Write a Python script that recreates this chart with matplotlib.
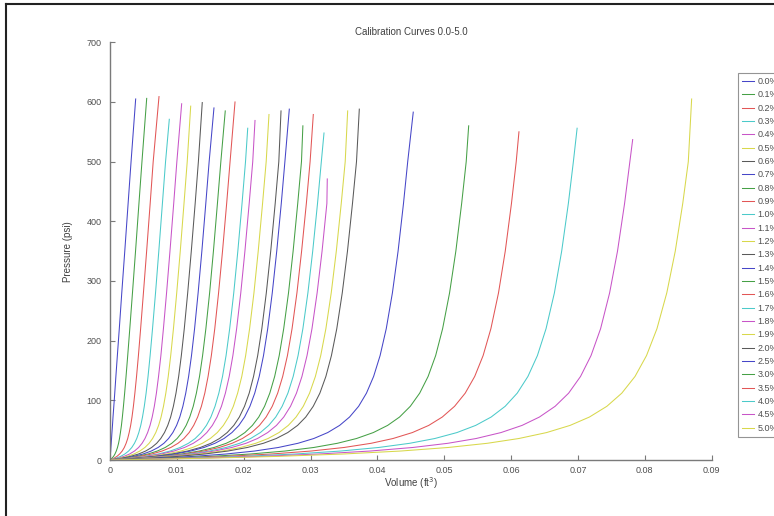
import matplotlib
matplotlib.use('Agg')
import matplotlib.pyplot as plt
from matplotlib.lines import Line2D

plt.rcParams['font.family'] = ['Liberation Sans', 'DejaVu Sans']

# pressure steps (psi) shared by the curves; each curve's last point is in top_*
pressure = [0, 3, 6, 10, 15, 21, 28, 36, 46, 58, 72, 90, 112, 140, 175, 220, 280, 350, 430, 500]

labels = ['0.0%', '0.1%', '0.2%', '0.3%', '0.4%', '0.5%', '0.6%', '0.7%', '0.8%',
          '0.9%', '1.0%', '1.1%', '1.2%', '1.3%', '1.4%', '1.5%', '1.6%', '1.7%',
          '1.8%', '1.9%', '2.0%', '2.5%', '3.0%', '3.5%', '4.0%', '4.5%', '5.0%']

# volume (ft^3) read at each pressure step
vol_00 = [0, 0.00002, 0.00004, 0.00006, 0.00010, 0.00013, 0.00018, 0.00023, 0.00029, 0.00037, 0.00045, 0.00057, 0.00071, 0.00088, 0.00110, 0.00139, 0.00176, 0.00221, 0.00271, 0.00315]
vol_01 = [0, 0.00030, 0.00053, 0.00074, 0.00094, 0.00112, 0.00128, 0.00142, 0.00156, 0.00171, 0.00185, 0.00201, 0.00219, 0.00240, 0.00265, 0.00296, 0.00336, 0.00382, 0.00433, 0.00478]
vol_02 = [0, 0.00060, 0.00103, 0.00144, 0.00182, 0.00214, 0.00241, 0.00265, 0.00287, 0.00309, 0.00329, 0.00350, 0.00372, 0.00397, 0.00425, 0.00458, 0.00500, 0.00548, 0.00601, 0.00646]
vol_03 = [0, 0.00092, 0.00158, 0.00221, 0.00278, 0.00326, 0.00366, 0.00400, 0.00431, 0.00460, 0.00486, 0.00513, 0.00540, 0.00569, 0.00600, 0.00636, 0.00681, 0.00730, 0.00784, 0.00831]
vol_04 = [0, 0.00121, 0.00208, 0.00292, 0.00366, 0.00428, 0.00480, 0.00523, 0.00563, 0.00599, 0.00631, 0.00663, 0.00694, 0.00726, 0.00761, 0.00799, 0.00846, 0.00897, 0.00953, 0.01000]
vol_05 = [0, 0.00149, 0.00255, 0.00357, 0.00446, 0.00522, 0.00585, 0.00637, 0.00685, 0.00727, 0.00764, 0.00800, 0.00835, 0.00871, 0.00908, 0.00949, 0.00998, 0.01051, 0.01107, 0.01155]
vol_06 = [0, 0.00178, 0.00304, 0.00426, 0.00533, 0.00623, 0.00698, 0.00759, 0.00815, 0.00864, 0.00907, 0.00948, 0.00987, 0.01027, 0.01067, 0.01111, 0.01162, 0.01216, 0.01274, 0.01322]
vol_07 = [0, 0.00206, 0.00352, 0.00493, 0.00617, 0.00720, 0.00806, 0.00876, 0.00940, 0.00996, 0.01044, 0.01090, 0.01133, 0.01176, 0.01219, 0.01265, 0.01318, 0.01374, 0.01433, 0.01483]
vol_08 = [0, 0.00236, 0.00404, 0.00566, 0.00708, 0.00826, 0.00924, 0.01004, 0.01076, 0.01139, 0.01193, 0.01245, 0.01292, 0.01339, 0.01385, 0.01434, 0.01490, 0.01547, 0.01607, 0.01658]
vol_09 = [0, 0.00260, 0.00446, 0.00623, 0.00779, 0.00910, 0.01017, 0.01105, 0.01184, 0.01252, 0.01311, 0.01367, 0.01418, 0.01467, 0.01516, 0.01567, 0.01624, 0.01683, 0.01745, 0.01796]
vol_10 = [0, 0.00301, 0.00515, 0.00720, 0.00899, 0.01050, 0.01173, 0.01274, 0.01364, 0.01442, 0.01509, 0.01571, 0.01628, 0.01683, 0.01736, 0.01790, 0.01851, 0.01912, 0.01975, 0.02027]
vol_11 = [0, 0.00319, 0.00547, 0.00765, 0.00956, 0.01115, 0.01246, 0.01353, 0.01448, 0.01531, 0.01601, 0.01667, 0.01726, 0.01783, 0.01838, 0.01894, 0.01956, 0.02018, 0.02082, 0.02135]
vol_12 = [0, 0.00354, 0.00607, 0.00848, 0.01060, 0.01237, 0.01382, 0.01500, 0.01605, 0.01696, 0.01773, 0.01845, 0.01909, 0.01971, 0.02029, 0.02088, 0.02153, 0.02217, 0.02282, 0.02336]
vol_13 = [0, 0.00388, 0.00663, 0.00927, 0.01159, 0.01351, 0.01509, 0.01638, 0.01753, 0.01852, 0.01935, 0.02012, 0.02082, 0.02147, 0.02209, 0.02271, 0.02338, 0.02404, 0.02471, 0.02525]
vol_14 = [0, 0.00403, 0.00691, 0.00965, 0.01206, 0.01407, 0.01571, 0.01705, 0.01824, 0.01927, 0.02013, 0.02093, 0.02165, 0.02232, 0.02296, 0.02359, 0.02427, 0.02494, 0.02562, 0.02616]
vol_15 = [0, 0.00447, 0.00764, 0.01069, 0.01335, 0.01557, 0.01738, 0.01886, 0.02018, 0.02130, 0.02225, 0.02312, 0.02390, 0.02463, 0.02531, 0.02598, 0.02670, 0.02739, 0.02808, 0.02864]
vol_16 = [0, 0.00469, 0.00803, 0.01123, 0.01402, 0.01635, 0.01826, 0.01980, 0.02118, 0.02236, 0.02335, 0.02427, 0.02508, 0.02583, 0.02654, 0.02723, 0.02796, 0.02866, 0.02937, 0.02993]
vol_17 = [0, 0.00499, 0.00853, 0.01193, 0.01489, 0.01737, 0.01939, 0.02103, 0.02249, 0.02374, 0.02479, 0.02575, 0.02661, 0.02740, 0.02813, 0.02885, 0.02960, 0.03032, 0.03104, 0.03161]
vol_18 = [0, 0.00523, 0.00895, 0.01251, 0.01563, 0.01822, 0.02034, 0.02206, 0.02359, 0.02490, 0.02599, 0.02700, 0.02789, 0.02871, 0.02947, 0.03021, 0.03098, 0.03172, 0.03244]
vol_19 = [0, 0.00561, 0.00960, 0.01341, 0.01675, 0.01953, 0.02180, 0.02364, 0.02528, 0.02667, 0.02783, 0.02891, 0.02985, 0.03072, 0.03152, 0.03229, 0.03309, 0.03385, 0.03459, 0.03518]
vol_20 = [0, 0.00590, 0.01010, 0.01412, 0.01763, 0.02055, 0.02294, 0.02487, 0.02659, 0.02806, 0.02928, 0.03040, 0.03139, 0.03229, 0.03312, 0.03392, 0.03474, 0.03552, 0.03627, 0.03687]
vol_25 = [0, 0.00724, 0.01239, 0.01731, 0.02161, 0.02519, 0.02811, 0.03048, 0.03257, 0.03435, 0.03583, 0.03719, 0.03836, 0.03943, 0.04040, 0.04132, 0.04224, 0.04309, 0.04390, 0.04453]
vol_30 = [0, 0.00877, 0.01500, 0.02095, 0.02616, 0.03049, 0.03401, 0.03687, 0.03939, 0.04153, 0.04331, 0.04492, 0.04632, 0.04758, 0.04871, 0.04975, 0.05079, 0.05173, 0.05260, 0.05328]
vol_35 = [0, 0.01007, 0.01723, 0.02407, 0.03005, 0.03502, 0.03906, 0.04233, 0.04523, 0.04768, 0.04970, 0.05154, 0.05313, 0.05455, 0.05581, 0.05697, 0.05811, 0.05912, 0.06005, 0.06076]
vol_40 = [0, 0.01156, 0.01978, 0.02763, 0.03449, 0.04019, 0.04483, 0.04858, 0.05190, 0.05470, 0.05701, 0.05911, 0.06091, 0.06251, 0.06393, 0.06522, 0.06647, 0.06756, 0.06856, 0.06931]
vol_45 = [0, 0.01304, 0.02230, 0.03116, 0.03888, 0.04531, 0.05054, 0.05476, 0.05849, 0.06164, 0.06423, 0.06658, 0.06860, 0.07038, 0.07195, 0.07338, 0.07473, 0.07591, 0.07697, 0.07776]
vol_50 = [0, 0.01456, 0.02491, 0.03480, 0.04343, 0.05060, 0.05644, 0.06115, 0.06531, 0.06882, 0.07171, 0.07432, 0.07655, 0.07853, 0.08025, 0.08181, 0.08328, 0.08455, 0.08567, 0.08650]

# end point of each curve
top_volume = [0.00384, 0.00549, 0.00733, 0.00887, 0.01072, 0.01207, 0.01380, 0.01555, 0.01724,
              0.01870, 0.02060, 0.02169, 0.02378, 0.02558, 0.02682, 0.02885, 0.03041, 0.03201,
              0.03250, 0.03555, 0.03729, 0.04536, 0.05365, 0.06117, 0.06987, 0.07818, 0.08700]
top_pressure = [605, 606, 609, 571, 597, 593, 599, 590, 585, 600, 556, 569, 579, 585, 588, 560,
                579, 548, 471, 585, 588, 583, 560, 550, 556, 537, 605]

volumes = [vol_00, vol_01, vol_02, vol_03, vol_04, vol_05, vol_06, vol_07, vol_08, vol_09,
           vol_10, vol_11, vol_12, vol_13, vol_14, vol_15, vol_16, vol_17, vol_18, vol_19,
           vol_20, vol_25, vol_30, vol_35, vol_40, vol_45, vol_50]

# old matlab colour order b g r c m y k
colours = ['#4646c8', '#46a046', '#e25656', '#4ccaca', '#c855c8', '#d8d84c', '#5a5a5a']

fig = plt.figure(figsize=(7.74, 5.16), dpi=100)
ax = fig.add_axes([110 / 774, 56 / 516, 601.7 / 774, 417.7 / 516])

for i, v in enumerate(volumes):
    x = list(v) + [top_volume[i]]
    y = pressure[:len(v)] + [top_pressure[i]]
    ax.plot(x, y, color=colours[i % 7], lw=0.75, label=labels[i])

grey = '#7a7a7a'
ax.set_xlim(0, 0.09)
ax.set_ylim(0, 700)
ax.set_xticks([0, 0.01, 0.02, 0.03, 0.04, 0.05, 0.06, 0.07, 0.08, 0.09])
ax.set_xticklabels(['0', '0.01', '0.02', '0.03', '0.04', '0.05', '0.06', '0.07', '0.08', '0.09'])
ax.set_yticks([0, 100, 200, 300, 400, 500, 600, 700])
ax.spines['top'].set_visible(False)
ax.spines['right'].set_visible(False)
for s in ['left', 'bottom']:
    ax.spines[s].set_color(grey)
    ax.spines[s].set_linewidth(1.0)
ax.tick_params(direction='in', length=3.5, width=0.8, color=grey,
               labelsize=6.5, labelcolor='#505050')
ax.tick_params(axis='y', pad=6)
ax.tick_params(axis='x', pad=4)

ax.set_title('Calibration Curves 0.0-5.0', fontsize=7, color='#404040', pad=5.5)
ax.set_xlabel('Volume (ft$^3$)', fontsize=7, color='#404040', labelpad=0.5)
ax.set_ylabel('Pressure (psi)', fontsize=7, color='#404040', labelpad=10)

# legend runs to the right edge, as in the screenshot
leg = ax.legend(loc='upper left', bbox_to_anchor=(738 / 774, 1 - 73 / 516),
                bbox_transform=fig.transFigure, fontsize=6.5, frameon=True,
                fancybox=False, borderaxespad=0, borderpad=0.45, labelspacing=0.48,
                handlelength=1.3, handletextpad=0.4)
leg.get_frame().set_edgecolor(grey)
leg.get_frame().set_linewidth(0.8)
for t in leg.get_texts():
    t.set_color('#505050')

# frame of the screenshot
fig.add_artist(Line2D([6 / 774, 6 / 774], [0, 1 - 4 / 516], color='#222222', lw=1.5,
                      transform=fig.transFigure))
fig.add_artist(Line2D([6 / 774, 1], [1 - 4 / 516, 1 - 4 / 516], color='#222222', lw=1.5,
                      transform=fig.transFigure))

plt.savefig('out.png', dpi=100)
